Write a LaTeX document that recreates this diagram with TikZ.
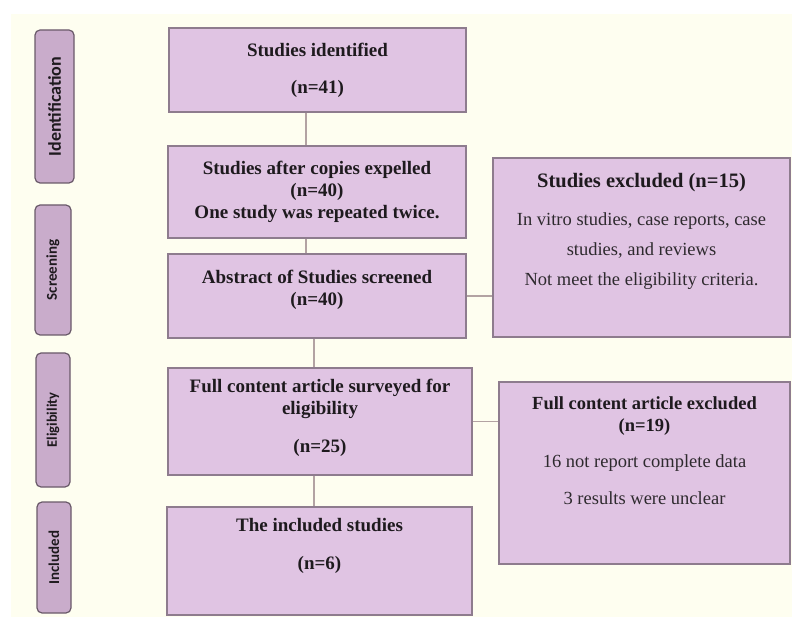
\documentclass[tikz,border=0pt]{standalone}
\usepackage{fontspec}
\setmainfont{Liberation Serif}
\newfontfamily\phasefont{Carlito}
\definecolor{cream}{HTML}{FEFEF0}
\definecolor{boxfill}{HTML}{E0C4E3}
\definecolor{boxline}{HTML}{8E7C8E}
\definecolor{phasefill}{HTML}{C9ACCB}
\definecolor{phaseline}{HTML}{6A5A6A}
\definecolor{linkline}{HTML}{B3A3A3}
\definecolor{ink}{HTML}{1E1A1E}
\definecolor{softink}{HTML}{2E2A2E}
\begin{document}
\begin{tikzpicture}[x=1pt, y=-1pt,
  box/.style={draw=boxline, fill=boxfill, line width=1.3pt, inner sep=0pt, align=center, text=ink, font=\fontsize{19}{22}\selectfont\bfseries},
  exbox/.style={box, text=softink, font=\fontsize{18.5}{30}\selectfont\mdseries},
  phase/.style={draw=phaseline, fill=phasefill, line width=1.2pt, rounded corners=5pt, inner sep=0pt, rotate=90, text=ink},
  link/.style={draw=linkline, line width=1.2pt}]
  \fill[white] (0,0) rectangle (793,620);
  \fill[cream] (11,14) rectangle (792,617);
  % phases on the left
  \node[phase, minimum width=153, minimum height=39, font=\phasefont\fontsize{18}{20}\selectfont\bfseries] (idph) at (54.5,106.5) {Identification};
  \node[phase, minimum width=130, minimum height=36, font=\phasefont\fontsize{15}{18}\selectfont\bfseries] (scph) at (53,270) {Screening};
  \node[phase, minimum width=134, minimum height=34, font=\phasefont\fontsize{14.5}{18}\selectfont\bfseries] (elph) at (53,420) {Eligibility};
  \node[phase, minimum width=111, minimum height=34, font=\phasefont\fontsize{15}{18}\selectfont\bfseries] (inph) at (54,557.5) {Included};
  % main column
  \node[box, minimum width=297, minimum height=84] (ident) at (317.5,70) {Studies identified\\[15pt](n=41)};
  \node[box, minimum width=298, minimum height=92] (dedup) at (317,192) {Studies after copies expelled\\(n=40)\\One study was repeated twice.};
  \node[box, minimum width=298, minimum height=84] (screen) at (317,296) {Abstract of Studies screened\\(n=40)\\[-6pt]\mbox{}};
  \node[box, minimum width=304, minimum height=107] (full) at (320,421.5) {Full content article surveyed for\\eligibility\\[16pt](n=25)\\[-10pt]\mbox{}};
  \node[box, minimum width=305, minimum height=108] (incl) at (319.5,561) {The included studies\\[16pt](n=6)\\[12pt]\mbox{}};
  % excluded
  \node[exbox, minimum width=297, minimum height=179] (excl) at (641.5,247.5) {{\bfseries\color{ink}\fontsize{20.5}{24}\selectfont Studies excluded (n=15)}\\[8pt]In vitro studies, case reports, case\\studies, and reviews\\Not meet the eligibility criteria.\\[7pt]\mbox{}};
  \node[exbox, minimum width=291, minimum height=182, font=\fontsize{18.5}{22}\selectfont\mdseries] (fullex) at (644.5,473) {{\bfseries\color{ink}Full content article excluded}\\{\bfseries\color{ink}(n=19)}\\[14pt]16 not report complete data\\[15pt]3 results were unclear\\[22pt]\mbox{}};
  % connectors
  \draw[link] ([xshift=-11.5pt]ident.south) -- ([xshift=-11.5pt]ident.south |- dedup.north);
  \draw[link] ([xshift=-11pt]dedup.south) -- ([xshift=-11pt]dedup.south |- screen.north);
  \draw[link] ([xshift=-3pt]screen.south) -- ([xshift=-3pt]screen.south |- full.north);
  \draw[link] ([xshift=-6pt]full.south) -- ([xshift=-6pt]full.south |- incl.north);
  \draw[link] (screen.east) -- (screen.east -| excl.west);
  \draw[link] (full.east) -- (full.east -| fullex.west);
\end{tikzpicture}
\end{document}
